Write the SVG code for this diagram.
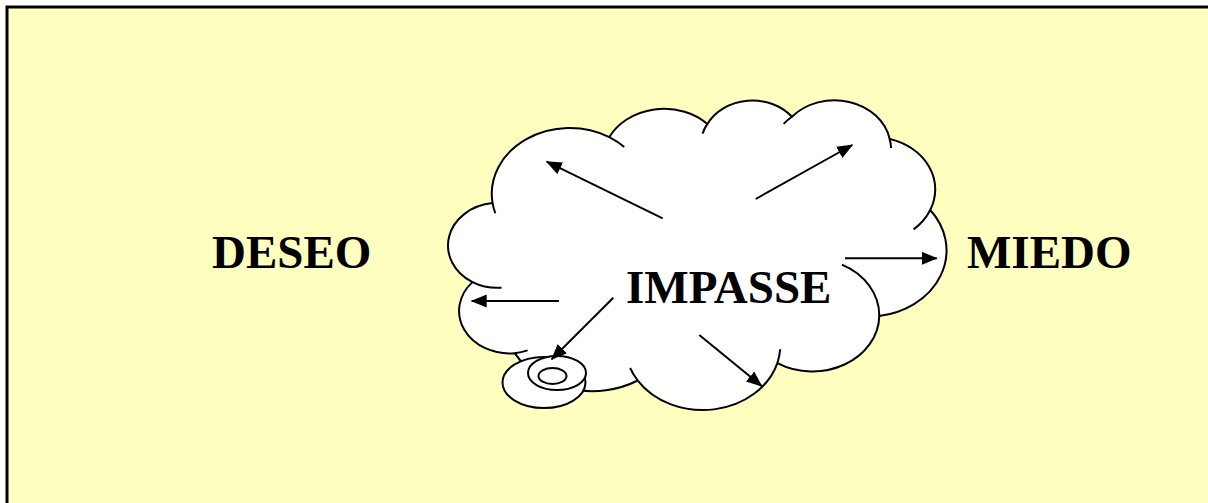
<svg xmlns="http://www.w3.org/2000/svg" width="1208" height="503" viewBox="0 0 1208 503">
<style>
.cl{fill:#fff;stroke:#000;stroke-width:2;vector-effect:non-scaling-stroke;stroke-linejoin:round}
.in{fill:none;stroke:#000;stroke-width:2;vector-effect:non-scaling-stroke}
.el{fill:#fff;stroke:#000;stroke-width:2}
.ar{stroke:#000;stroke-width:2;fill:none;marker-end:url(#ah)}
.t{font-family:"Liberation Serif","Times New Roman",serif;font-weight:bold;font-size:47px;fill:#000}
</style>
<defs>
<marker id="ah" markerUnits="userSpaceOnUse" markerWidth="18" markerHeight="14" refX="15" refY="6.5" orient="auto">
<path d="M0,0 L16,6.5 L0,13 Z" fill="#000"/>
</marker>
</defs>
<rect x="0" y="0" width="1208" height="503" fill="#fff"/>
<rect x="7" y="7" width="1201" height="496" fill="#FFFFC0"/>
<path d="M7,503 V7 H1208" fill="none" stroke="#000" stroke-width="3"/>
<g id="impasse">
<g transform="translate(447.5,100) scale(0.023102,0.014352)">
<path class="cl" d="M1950,7185 A2172.5,2972.5 0 0 0 1080,12690 A2180,2959 0 0 0 2910,17640 A3860,5271.5 0 0 0 8235,19545 A3376,4607.5 0 0 0 14280,18330 A2892.5,3933.5 0 0 0 18690,15045 A3387.5,4610 0 0 0 20895,7665 A2666.5,3636.5 0 0 0 19140,2715 A2428.5,3297.5 0 0 0 14910,1170 A2182.5,2972.5 0 0 0 11250,1665 A2666.5,3633.5 0 0 0 7005,2580 A3376.5,4595 0 0 0 1950,7185 Z"/>
<path class="in" d="M1080,12690 A2172.5,2972.5 0 0 0 2340,13080 M2910,17640 A2180,2959 0 0 0 3465,17445 M7905,18675 A3376,4607.5 0 0 0 8235,19545 M14280,18330 A3376,4607.5 0 0 0 14400,17370 M18690,15045 A2892.5,3933.5 0 0 0 17070,11475 M20175,9015 A2666.5,3636.5 0 0 0 20895,7665 M19200,3345 A2428.5,3297.5 0 0 0 19140,2715 M14910,1170 A2428.5,3297.5 0 0 0 14550,1665 M11250,1665 A2182.5,2972.5 0 0 0 11040,2340 M7650,3270 A3376.5,4595 0 0 0 7005,2580 M1950,7185 A3376.5,4595 0 0 0 2070,7890"/>
</g>
<ellipse class="el" cx="544" cy="382.5" rx="41.5" ry="25.5"/>
<ellipse class="el" cx="557" cy="373" rx="29" ry="17"/>
<ellipse class="el" cx="552.5" cy="376" rx="14" ry="8"/>
<text class="t" x="626" y="303">IMPASSE</text>
</g>
<g id="deseo"><text class="t" x="212" y="268">DESEO</text></g>
<g id="miedo"><text class="t" x="967" y="268">MIEDO</text></g>
<g id="connectors">
<line class="ar" x1="662.7" y1="218.3" x2="546.7" y2="161.7"/>
<line class="ar" x1="755.7" y1="199" x2="852.3" y2="145"/>
<line class="ar" x1="845" y1="258.3" x2="936.7" y2="258.3"/>
<line class="ar" x1="559" y1="301" x2="471.7" y2="301"/>
<line class="ar" x1="613.3" y1="297.7" x2="551.7" y2="359.3"/>
<line class="ar" x1="699.3" y1="335" x2="761.7" y2="386"/>
</g>
</svg>
